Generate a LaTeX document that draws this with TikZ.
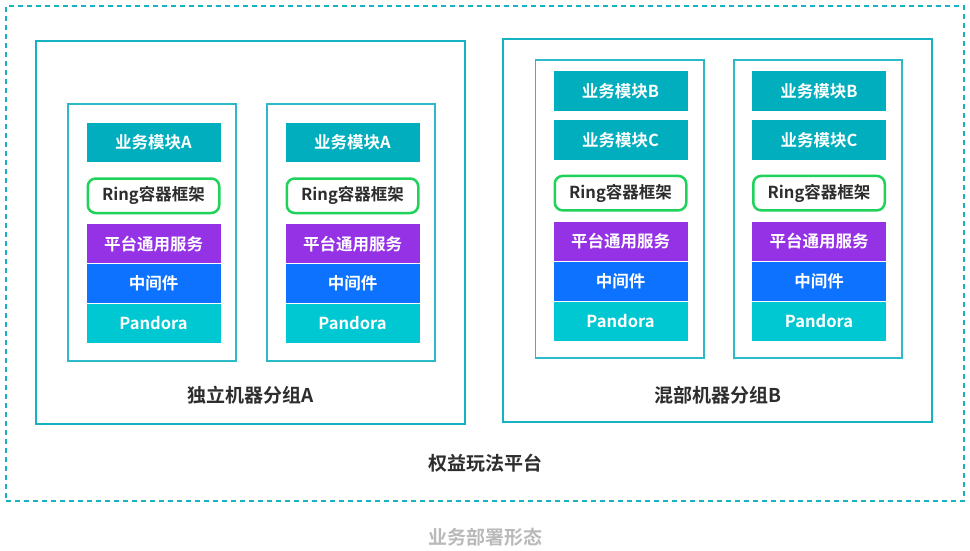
\documentclass[tikz,border=0pt]{standalone}
\usepackage{fontspec}
\setmainfont{Noto Sans CJK SC}[BoldFont={Noto Sans CJK SC Bold}]
\usepackage{xcolor}
\usetikzlibrary{positioning}

\definecolor{lineteal}{RGB}{22,178,194}
\definecolor{modteal}{RGB}{0,174,190}
\definecolor{pandcyan}{RGB}{0,200,210}
\definecolor{midblue}{RGB}{12,114,255}
\definecolor{platpurple}{RGB}{150,50,230}
\definecolor{ringgreen}{RGB}{30,210,90}
\definecolor{textdark}{RGB}{45,45,45}
\definecolor{textgray}{RGB}{185,185,185}

\begin{document}
\begin{tikzpicture}[
    x=1pt, y=-1pt,
    node distance=0pt,
    platform/.style={rectangle, draw=lineteal, line width=2pt, dash pattern=on 5pt off 4pt, minimum width=958pt, minimum height=495pt},
    group/.style={rectangle, draw=lineteal, line width=1.8pt, minimum width=429.2pt, minimum height=383.2pt},
    machine/.style={rectangle, draw=lineteal!90, line width=1.8pt, minimum width=168.2pt},
    block/.style={rectangle, fill=#1, text=white, minimum width=134pt, minimum height=39.5pt, inner sep=0pt, font=\bfseries\fontsize{16.5}{16.5}\selectfont},
    ring/.style={rectangle, draw=ringgreen, line width=2.5pt, fill=white, rounded corners=8pt, text=textdark, minimum width=131.5pt, minimum height=34.5pt, inner sep=0pt, font=\bfseries\fontsize{16.5}{16.5}\selectfont},
    label/.style={font=\bfseries\fontsize{19}{19}\selectfont, text=textdark}
]
    \useasboundingbox (0,0) rectangle (970,551);

    % Outer platform and groups
    \node[platform] (plat) at (485,253.5) {};
    \node[group] (grpA) at (250.5,232.5) {};
    \node[group] (grpB) at (717.5,230.5) {};

    % Group A machines
    \foreach \m/\x in {a1/152, a2/351} {
        \node[machine, minimum height=257.2pt] (box\m) at (\x,232.5) {};
        \node[block=modteal] (mod\m) at (\x+1.5,142.5) {业务模块A};
        \node[ring, below=14.8pt of mod\m] (ring\m) {Ring容器框架};
        \node[block=platpurple, below=9.5pt of ring\m] (svc\m) {平台通用服务};
        \node[block=midblue, below=of svc\m] (mid\m) {中间件};
        \node[block=pandcyan, below=of mid\m] (pan\m) {Pandora};
    }

    % Group B machines
    \foreach \m/\x in {b1/619.5, b2/818} {
        \node[machine, minimum height=298.2pt] (box\m) at (\x,209) {};
        \node[block=modteal] (modb\m) at (\x+1,91) {业务模块B};
        \node[block=modteal, below=9pt of modb\m] (modc\m) {业务模块C};
        \node[ring, below=14.8pt of modc\m] (ring\m) {Ring容器框架};
        \node[block=platpurple, below=10pt of ring\m] (svc\m) {平台通用服务};
        \node[block=midblue, below=of svc\m] (mid\m) {中间件};
        \node[block=pandcyan, below=of mid\m] (pan\m) {Pandora};
    }

    % Labels
    \node[label] (labA) at (250.5,395) {独立机器分组A};
    \node[label] (labB) at (717.5,395) {混部机器分组B};
    \node[label] (labP) at (485,463) {权益玩法平台};
    \node[label, text=textgray] (title) at (485,537) {业务部署形态};
\end{tikzpicture}
\end{document}
